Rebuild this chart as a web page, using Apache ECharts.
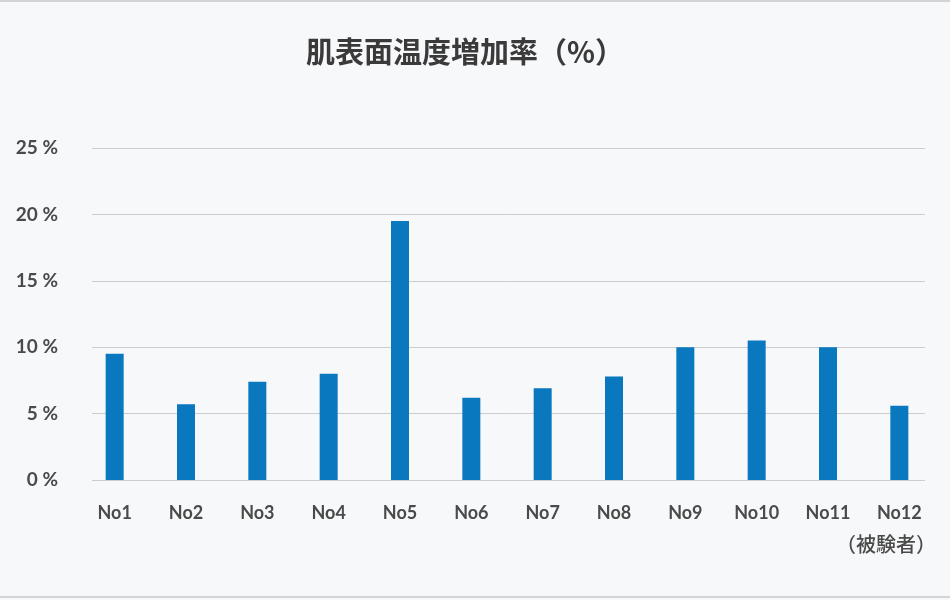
<!DOCTYPE html>
<html>
<head>
<meta charset="utf-8">
<script src="https://cdn.jsdelivr.net/npm/echarts@6/dist/echarts.min.js"></script>
<style>
html,body{margin:0;padding:0;background:#f7f8fa;}
#c{width:950px;height:600px;}
</style>
</head>
<body>
<div id="c"></div>
<script>
var titleText = '肌表面温度増加率（%）';
var categories = ['No1','No2','No3','No4','No5','No6','No7','No8','No9','No10','No11','No12'];
var values = [9.5, 5.7, 7.4, 8.0, 19.5, 6.2, 6.9, 7.8, 10.0, 10.5, 10.0, 5.6];
var axisNameText = '（被験者）';
var yMin = 0, yMax = 25, yStep = 5;

var chart = echarts.init(document.getElementById('c'), null, {renderer:'canvas'});
var latin = 'Lato, "Noto Sans", sans-serif';
var cjk = '"Noto Sans CJK JP", "Noto Sans", sans-serif';
chart.setOption({
  backgroundColor: '#f7f8fa',
  animation: false,
  grid: [
    {left: 92, right: 25, top: 148, bottom: 120},
    {left: 79, right: 15, top: 148, bottom: 120}
  ],
  xAxis: [
    {gridIndex: 0, type: 'category', data: categories, show: false},
    {gridIndex: 1, type: 'category', data: categories,
     axisLine: {show: false}, axisTick: {show: false},
     axisLabel: {margin: 24, fontSize: 18, fontWeight: 'bold', color: '#4a4a4a', fontFamily: latin, interval: 0}}
  ],
  yAxis: [
    {gridIndex: 0, type: 'value', min: yMin, max: yMax, interval: yStep,
     axisLine: {show: false}, axisTick: {show: false},
     axisLabel: {margin: 34, fontSize: 19, fontWeight: 'bold', color: '#4a4a4a', fontFamily: latin,
                 formatter: function(v){ return v + ' %'; }},
     splitLine: {show: true, lineStyle: {color: '#cccccc', width: 1}}},
    {gridIndex: 1, type: 'value', min: yMin, max: yMax, interval: yStep, show: false,
     splitLine: {show: false}}
  ],
  series: [{
    type: 'bar', xAxisIndex: 1, yAxisIndex: 1,
    data: values, barWidth: 18,
    itemStyle: {color: '#0a78bf'}
  }],
  graphic: [
    {type: 'rect', left: 0, top: 0, shape: {width: 950, height: 2}, style: {fill: '#d4d4d6'}, silent: true},
    {type: 'rect', left: 0, top: 596, shape: {width: 950, height: 2}, style: {fill: '#d4d4d6'}, silent: true},
    {type: 'text', x: 465, y: 52, style: {text: titleText, font: 'bold 29px ' + cjk, fill: '#3a3a3a', textAlign: 'center', textVerticalAlign: 'middle'}},
    {type: 'text', x: 936, y: 544, style: {text: axisNameText, font: '500 20px ' + cjk, fill: '#4a4a4a', textAlign: 'right', textVerticalAlign: 'middle'}}
  ]
});
</script>
</body>
</html>
